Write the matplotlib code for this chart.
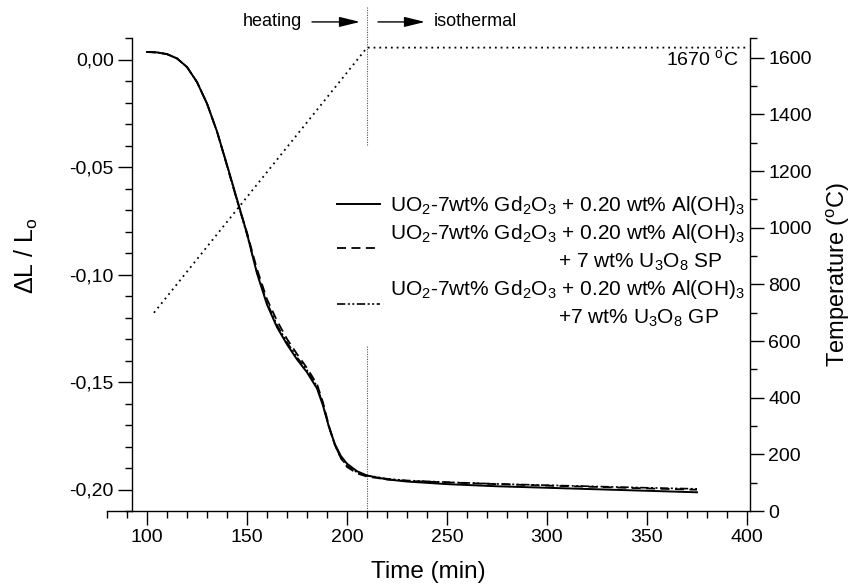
import numpy as np
import matplotlib
matplotlib.use('Agg')
import matplotlib.pyplot as plt
from matplotlib.ticker import MultipleLocator, FixedLocator, FuncFormatter

plt.rcParams['font.family'] = ['Liberation Sans', 'DejaVu Sans']
plt.rcParams['mathtext.fontset'] = 'custom'
plt.rcParams['mathtext.rm'] = 'Liberation Sans'
plt.rcParams['mathtext.it'] = 'Liberation Sans:italic'
plt.rcParams['mathtext.bf'] = 'Liberation Sans:bold'
plt.rcParams['mathtext.sf'] = 'Liberation Sans'

# ---------------- data ----------------
time_min = [100, 105, 110, 115, 120, 125, 130, 135, 140, 145, 150, 155, 160, 165,
            170, 175, 180, 185, 188, 191, 194, 197, 200, 205, 210, 220, 230, 250,
            275, 300, 325, 350, 375]

dl_base = [0.0035, 0.0033, 0.0025, 0.0005, -0.0035, -0.0105, -0.0205, -0.0335,
           -0.0490, -0.0650, -0.0810, -0.0995, -0.1140, -0.1245, -0.1325, -0.1395,
           -0.1455, -0.1530, -0.1610, -0.1710, -0.1790, -0.1845, -0.1880, -0.1915,
           -0.1935, -0.1953, -0.1963, -0.1975, -0.1985, -0.1992, -0.1999, -0.2006,
           -0.2013]

dl_sp = [0.0035, 0.0033, 0.0025, 0.0005, -0.0035, -0.0105, -0.0205, -0.0335,
         -0.0495, -0.0655, -0.0805, -0.0975, -0.1115, -0.1215, -0.1300, -0.1370,
         -0.1435, -0.1510, -0.1595, -0.1705, -0.1795, -0.1855, -0.1895, -0.1925,
         -0.1940, -0.1953, -0.1960, -0.1967, -0.1975, -0.1982, -0.1988, -0.1995,
         -0.2001]

dl_gp = [0.0035, 0.0033, 0.0025, 0.0005, -0.0035, -0.0105, -0.0205, -0.0335,
         -0.0492, -0.0655, -0.0815, -0.0990, -0.1130, -0.1235, -0.1315, -0.1385,
         -0.1445, -0.1520, -0.1605, -0.1710, -0.1795, -0.1855, -0.1890, -0.1920,
         -0.1935, -0.1950, -0.1958, -0.1966, -0.1974, -0.1980, -0.1986, -0.1992,
         -0.1997]

temp_time = [103.5, 210, 401]
temp_vals = [700, 1636, 1636]

switch_time = 210
iso_label = '1670 $^{\\rm o}$C'

labels = [
    'UO$_2$-7wt% Gd$_2$O$_3$ + 0.20 wt% Al(OH)$_3$',
    'UO$_2$-7wt% Gd$_2$O$_3$ + 0.20 wt% Al(OH)$_3$\n' + ' ' * 29 + '+ 7 wt% U$_3$O$_8$ SP',
    'UO$_2$-7wt% Gd$_2$O$_3$ + 0.20 wt% Al(OH)$_3$\n' + ' ' * 29 + '+7 wt% U$_3$O$_8$ GP',
]

# ---------------- figure ----------------
W, H = 852, 585
fig = plt.figure(figsize=(W / 100, H / 100), dpi=100)
ax_l, ax_r, ax_t, ax_b = 107, 750, 38, 511
ax = fig.add_axes([ax_l / W, 1 - ax_b / H, (ax_r - ax_l) / W, (ax_b - ax_t) / H])

l1, = ax.plot(time_min, dl_base, color='black', lw=1.4, ls='-', zorder=4)
l2, = ax.plot(time_min, dl_sp, color='black', lw=1.3, ls=(0, (5, 3)), zorder=3)
l3, = ax.plot(time_min, dl_gp, color='black', lw=1.2, ls=(0, (5, 1.5, 1.2, 1.5, 1.2, 1.5)), zorder=3)

ax.set_xlim(80, 401.5)
ax.set_ylim(-0.21, 0.01)

ax.spines['top'].set_visible(False)
ax.spines['right'].set_visible(False)
ax.spines['left'].set_position(('data', 92.5))
for s in ('left', 'bottom'):
    ax.spines[s].set_linewidth(1.0)

ax.xaxis.set_major_locator(MultipleLocator(50))
ax.xaxis.set_minor_locator(MultipleLocator(10))
ax.yaxis.set_major_locator(FixedLocator([0.0, -0.05, -0.10, -0.15, -0.20]))
ax.yaxis.set_minor_locator(FixedLocator([round(-0.21 + 0.01 * i, 2) for i in range(23)
                                         if i % 5 != 1]))
ax.yaxis.set_major_formatter(FuncFormatter(lambda v, p: f"{round(v, 2) + 0.0:.2f}".replace('.', ',')))

ax.tick_params(which='major', direction='out', length=10, width=1.0, labelsize=14, pad=3)
ax.tick_params(which='minor', direction='out', length=5, width=1.0)

ax.set_xlabel('Time (min)', fontsize=17.5)
ax.xaxis.set_label_coords(0.5, -0.106)
ax.set_ylabel('$\\Delta$L / L$_{\\rm o}$', fontsize=18)
ax.yaxis.set_label_coords(-0.104, 0.54)

# temperature axis
ax2 = ax.twinx()
ax2.plot(temp_time, temp_vals, color='black', lw=1.3, ls=(0, (1, 2.2)), zorder=2)
ax2.set_ylim(0, 1670)
for s in ('top', 'bottom', 'left'):
    ax2.spines[s].set_visible(False)
ax2.spines['right'].set_linewidth(1.0)
ax2.yaxis.set_major_locator(MultipleLocator(200))
ax2.yaxis.set_minor_locator(FixedLocator(list(range(100, 1700, 200)) + [1670]))
ax2.tick_params(which='major', direction='out', length=10, width=1.0, labelsize=14, pad=3)
ax2.tick_params(which='minor', direction='out', length=5, width=1.0)
ax2.set_ylabel('Temperature ($^{\\rm o}$C)', fontsize=17)
ax2.yaxis.set_label_coords(1.116, 0.5)

ax2.text(395.5, 1597, iso_label, ha='right', va='center', fontsize=14)

# vertical switch line (interrupted behind legend)
ax.axvline(switch_time, ymin=0.0, ymax=0.351, color='#555555', lw=0.8, ls=(0, (1, 1.2)), zorder=1)
ax.axvline(switch_time, ymin=0.774, ymax=1.0655, color='#555555', lw=0.8, ls=(0, (1, 1.2)),
           zorder=1, clip_on=False)

# top annotations
trans = ax.get_xaxis_transform()
ya = 1.034
ax.annotate('', xy=(206.5, ya), xytext=(182.5, ya), xycoords=trans, textcoords=trans,
            arrowprops=dict(arrowstyle='-|>,head_length=0.9,head_width=0.22', lw=1.0,
                            color='black', mutation_scale=14, shrinkA=0, shrinkB=0),
            annotation_clip=False)
ax.annotate('', xy=(239, ya), xytext=(215.5, ya), xycoords=trans, textcoords=trans,
            arrowprops=dict(arrowstyle='-|>,head_length=0.9,head_width=0.22', lw=1.0,
                            color='black', mutation_scale=14, shrinkA=0, shrinkB=0),
            annotation_clip=False)
ax.text(177.5, ya, 'heating', transform=trans, ha='right', va='center', fontsize=13)
ax.text(243.5, ya, 'isothermal', transform=trans, ha='left', va='center', fontsize=13)

# legend
leg = ax.legend([l1, l2, l3], labels, loc='upper left',
                bbox_to_anchor=((337 - ax_l) / (ax_r - ax_l), (ax_b - 194) / (ax_b - ax_t)),
                frameon=False, fontsize=15, handlelength=2.07, handletextpad=0.48,
                labelspacing=0.25, borderpad=0, borderaxespad=0)
for t in leg.get_texts():
    t.set_linespacing(1.4)

fig.savefig('out.png', dpi=100)
